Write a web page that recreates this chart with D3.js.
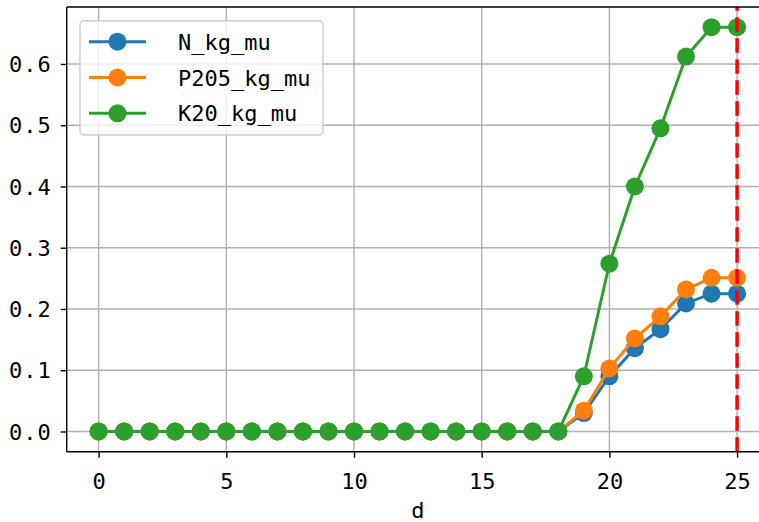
<!DOCTYPE html>
<html>
<head>
<meta charset="utf-8">
<script src="https://cdn.jsdelivr.net/npm/d3@7"></script>
<style>
  html, body { margin: 0; padding: 0; background: #fff; }
  svg { display: block; }
  text { font-family: "DejaVu Sans Mono", "Liberation Mono", monospace; fill: #000; }
</style>
</head>
<body>
<svg id="chart" width="759" height="522"></svg>
<script>
const days = [0,1,2,3,4,5,6,7,8,9,10,11,12,13,14,15,16,17,18,19,20,21,22,23,24,25];
const nValues = [0,0,0,0,0,0,0,0,0,0,0,0,0,0,0,0,0,0,0,0.030,0.090,0.136,0.167,0.209,0.225,0.225];
const pValues = [0,0,0,0,0,0,0,0,0,0,0,0,0,0,0,0,0,0,0,0.034,0.103,0.152,0.188,0.232,0.251,0.251];
const kValues = [0,0,0,0,0,0,0,0,0,0,0,0,0,0,0,0,0,0,0,0.090,0.274,0.400,0.495,0.612,0.660,0.660];
const seriesNames = ["N_kg_mu", "P205_kg_mu", "K20_kg_mu"];
const seriesColors = ["#1f77b4", "#ff7f0e", "#2ca02c"];
const xTicks = [0, 5, 10, 15, 20, 25];
const yTicks = [0.0, 0.1, 0.2, 0.3, 0.4, 0.5, 0.6];
const yTickLabels = ["0.0", "0.1", "0.2", "0.3", "0.4", "0.5", "0.6"];
const xLabel = "d";
const markerDay = 25;

const series = [nValues, pValues, kValues];

const svg = d3.select("#chart");
const pL = 66.7, pR = 769, pT = 7, pB = 451.7;

const x = d3.scaleLinear().domain([-1.25, 26.25]).range([pL, pR]);
const y = d3.scaleLinear().domain([-0.033, 0.693]).range([pB, pT]);

svg.append("rect").attr("width", 759).attr("height", 522).attr("fill", "#fff");

svg.append("defs").append("clipPath").attr("id", "plotclip")
  .append("rect").attr("x", pL).attr("y", pT).attr("width", pR - pL).attr("height", pB - pT);

// grid
const grid = svg.append("g");
grid.selectAll(".gx").data(xTicks).join("line")
  .attr("x1", d => x(d)).attr("x2", d => x(d)).attr("y1", pT).attr("y2", pB)
  .attr("stroke", "#b0b0b0").attr("stroke-width", 1.4);
grid.selectAll(".gy").data(yTicks).join("line")
  .attr("x1", pL).attr("x2", pR).attr("y1", d => y(d)).attr("y2", d => y(d))
  .attr("stroke", "#b0b0b0").attr("stroke-width", 1.4);

// axes
const xAxis = d3.axisBottom(x).tickValues(xTicks).tickSize(6).tickPadding(6).tickFormat(d3.format("d"));
const gx = svg.append("g").attr("transform", `translate(0,${pB})`).call(xAxis);
gx.select(".domain").remove();
gx.selectAll(".tick line").attr("stroke", "#000").attr("stroke-width", 1.4);
gx.selectAll(".tick text").attr("font-size", 22).attr("dy", null).attr("y", 37)
  .attr("font-family", "DejaVu Sans Mono, monospace");

const yAxis = d3.axisLeft(y).tickValues(yTicks).tickSize(6).tickPadding(8)
  .tickFormat((d, i) => yTickLabels[i]);
const gy = svg.append("g").attr("transform", `translate(${pL},0)`).call(yAxis);
gy.select(".domain").remove();
gy.selectAll(".tick line").attr("stroke", "#000").attr("stroke-width", 1.4);
gy.selectAll(".tick text").attr("font-size", 22).attr("dy", "0.35em").attr("x", -15)
  .attr("letter-spacing", 1)
  .attr("font-family", "DejaVu Sans Mono, monospace");

// data
const plot = svg.append("g").attr("clip-path", "url(#plotclip)");
const line = d3.line().x((d, i) => x(days[i])).y(d => y(d));
series.forEach((vals, s) => {
  const g = plot.append("g");
  g.append("path").datum(vals).attr("d", line)
    .attr("fill", "none").attr("stroke", seriesColors[s]).attr("stroke-width", 3);
  g.selectAll("circle").data(vals).join("circle")
    .attr("cx", (d, i) => x(days[i])).attr("cy", d => y(d)).attr("r", 9)
    .attr("fill", seriesColors[s]);
});

// red dashed line
plot.append("line")
  .attr("x1", x(markerDay)).attr("x2", x(markerDay)).attr("y1", pB).attr("y2", pT)
  .attr("stroke", "#ff0000").attr("stroke-width", 3.5).attr("stroke-dasharray", "14.5,6.5");

// spines
svg.append("line").attr("x1", pL).attr("x2", pL).attr("y1", pT).attr("y2", pB).attr("stroke", "#000").attr("stroke-width", 1.4);
svg.append("line").attr("x1", pL).attr("x2", pR).attr("y1", pB).attr("y2", pB).attr("stroke", "#000").attr("stroke-width", 1.4);
svg.append("line").attr("x1", pL).attr("x2", pR).attr("y1", pT).attr("y2", pT).attr("stroke", "#000").attr("stroke-width", 1.4);
svg.append("line").attr("x1", pR).attr("x2", pR).attr("y1", pT).attr("y2", pB).attr("stroke", "#000").attr("stroke-width", 1.4);

// x label
svg.append("text").attr("x", (pL + pR) / 2).attr("y", 518).attr("text-anchor", "middle")
  .attr("font-size", 22).text(xLabel);

// legend
const lg = svg.append("g");
lg.append("rect").attr("x", 80).attr("y", 20.7).attr("width", 243).attr("height", 114.3)
  .attr("rx", 4).attr("fill", "#fff").attr("fill-opacity", 0.8)
  .attr("stroke", "#cccccc").attr("stroke-width", 1.4);
const rows = lg.selectAll("g.row").data(seriesNames).join("g")
  .attr("transform", (d, i) => `translate(0,${41.7 + i * 35.8})`);
rows.append("line").attr("x1", 89).attr("x2", 146).attr("y1", 0).attr("y2", 0)
  .attr("stroke", (d, i) => seriesColors[i]).attr("stroke-width", 3);
rows.append("circle").attr("cx", 117.5).attr("cy", 0).attr("r", 9)
  .attr("fill", (d, i) => seriesColors[i]);
rows.append("text").attr("x", 178).attr("y", 8).attr("font-size", 22).text(d => d);
</script>
</body>
</html>
